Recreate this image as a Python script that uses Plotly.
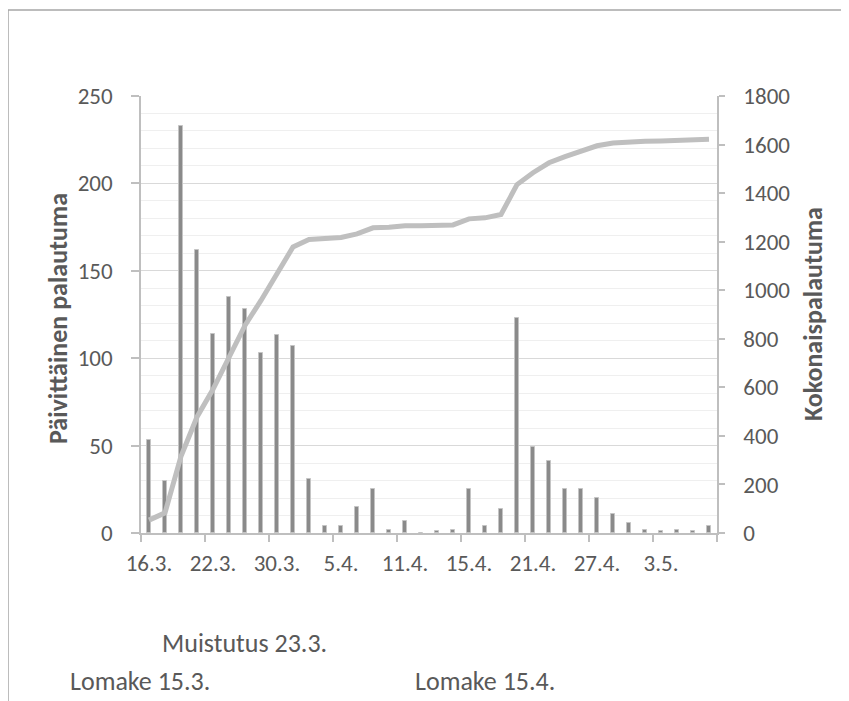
import plotly.graph_objects as go

# Daily responses (left axis) per reporting day
day_index = list(range(36))
daily = [53, 30, 233, 162, 114, 135, 128, 103, 113, 107, 31, 4,
         4, 15, 25, 2, 7, 0, 1, 2, 25, 4, 14, 123,
         49, 41, 25, 25, 20, 11, 6, 2, 1, 2, 1, 4]
# Cumulative responses (right axis)
cumulative = [53, 83, 316, 478, 592, 727, 855, 958, 1071, 1178, 1209, 1213,
              1217, 1232, 1257, 1259, 1266, 1266, 1267, 1269, 1294, 1298, 1312, 1435,
              1484, 1525, 1550, 1575, 1595, 1606, 1612, 1614, 1615, 1617, 1618, 1622]
tick_pos = [0, 4, 8, 12, 16, 20, 24, 28, 32]
tick_text = ["16.3.", "22.3.", "30.3.", "5.4.", "11.4.", "15.4.", "21.4.", "27.4.", "3.5."]

FONT = "Carlito, Calibri, Lato, sans-serif"
GREY_TXT = "#595959"
AX = "#bfbfbf"

fig = go.Figure()
fig.add_trace(go.Bar(x=day_index, y=daily, width=0.3,
                     marker=dict(color="#8a8a8a", line=dict(color="#c4c4c4", width=1)),
                     yaxis="y", showlegend=False))
fig.add_trace(go.Scatter(x=day_index, y=cumulative, mode="lines",
                         line=dict(color="#bfbfbf", width=5),
                         yaxis="y2", showlegend=False))

fig.update_layout(
    width=849, height=701,
    margin=dict(l=133, r=140, t=88, b=176),
    paper_bgcolor="white", plot_bgcolor="white",
    font=dict(family=FONT, size=23, color=GREY_TXT),
    bargap=0,
    xaxis=dict(range=[-0.5, 35.5], tickmode="array", tickvals=tick_pos, ticktext=tick_text,
               ticks="", showgrid=False, showline=True, linecolor=AX, linewidth=1.5,
               zeroline=False, ticklabelstandoff=9,
               minor=dict(tickmode="linear", tick0=-0.5, dtick=4, ticks="outside",
                          ticklen=7, tickcolor=AX, tickwidth=1.5, showgrid=False),
               tickfont=dict(size=23, color=GREY_TXT)),
    yaxis=dict(range=[0, 250], dtick=50, showline=True, linecolor=AX, linewidth=1.5,
               ticks="outside", ticklen=8, tickcolor=AX, tickwidth=1.5,
               gridcolor="#d9d9d9", gridwidth=1.3, zeroline=False,
               minor=dict(dtick=10, showgrid=True, gridcolor="#efefef", gridwidth=1),
               ticklabelstandoff=14, tickfont=dict(size=23, color=GREY_TXT)),
    yaxis2=dict(range=[0, 1800], dtick=200, overlaying="y", side="right",
                showline=True, linecolor=AX, linewidth=1.5, showgrid=False,
                ticks="outside", ticklen=6, tickcolor=AX, tickwidth=1.5, zeroline=False,
                ticklabelstandoff=14, tickfont=dict(size=23, color=GREY_TXT)),
)

# outer chart-area frame
fig.add_shape(type="path", xref="paper", yref="paper",
              path="M -0.2309 -0.45 L -0.2309 1.1968 L 1.3 1.1968",
              line=dict(color="#a6a6a6", width=1.5))

ann = [
    dict(text="<b>Päivittäinen palautuma</b>", x=-0.1441, y=0.492, textangle=-90,
         xanchor="center", yanchor="middle", font=dict(size=26)),
    dict(text="<b>Kokonaispalautuma</b>", x=1.1667, y=0.501, textangle=-90,
         xanchor="center", yanchor="middle", font=dict(size=26)),
    dict(text="Muistutus 23.3.", x=0.033, y=-0.2517, xanchor="left", yanchor="middle",
         font=dict(size=26)),
    dict(text="Lomake 15.3.", x=-0.1267, y=-0.3387, xanchor="left", yanchor="middle",
         font=dict(size=26)),
    dict(text="Lomake 15.4.", x=0.4722, y=-0.3387, xanchor="left", yanchor="middle",
         font=dict(size=26)),
]
for a in ann:
    fig.add_annotation(xref="paper", yref="paper", showarrow=False, **a)

fig.write_html("out.html")
